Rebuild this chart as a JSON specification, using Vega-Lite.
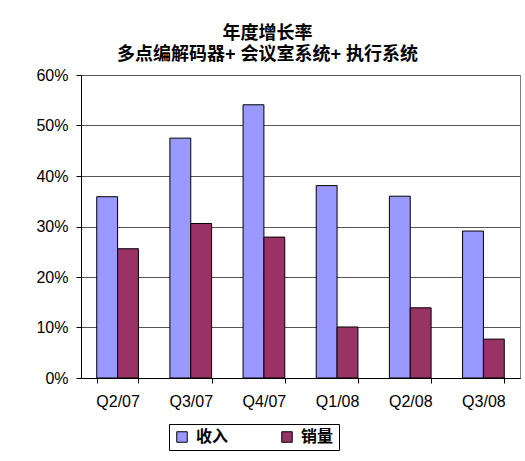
{
  "$schema": "https://vega.github.io/schema/vega-lite/v6.json",
  "width": 439,
  "height": 303,
  "autosize": "none",
  "padding": {"left": 81, "top": 75, "right": 5, "bottom": 83},
  "background": "white",
  "title": {
    "text": ["年度增长率", "多点编解码器+ 会议室系统+ 执行系统"],
    "font": "Liberation Sans, Noto Sans CJK SC",
    "fontSize": 18,
    "fontWeight": "bold",
    "color": "black",
    "anchor": "middle",
    "dx": -33,
    "offset": 3,
    "lineHeight": 21
  },
  "data": {
    "values": [
      {"quarter": "Q2/07", "series": "收入", "value": 0.359},
      {"quarter": "Q2/07", "series": "销量", "value": 0.256},
      {"quarter": "Q3/07", "series": "收入", "value": 0.475},
      {"quarter": "Q3/07", "series": "销量", "value": 0.306},
      {"quarter": "Q4/07", "series": "收入", "value": 0.541},
      {"quarter": "Q4/07", "series": "销量", "value": 0.279},
      {"quarter": "Q1/08", "series": "收入", "value": 0.381},
      {"quarter": "Q1/08", "series": "销量", "value": 0.101},
      {"quarter": "Q2/08", "series": "收入", "value": 0.360},
      {"quarter": "Q2/08", "series": "销量", "value": 0.139},
      {"quarter": "Q3/08", "series": "收入", "value": 0.291},
      {"quarter": "Q3/08", "series": "销量", "value": 0.077}
    ]
  },
  "mark": {"type": "bar", "stroke": "black", "strokeWidth": 1},
  "encoding": {
    "x": {
      "field": "quarter",
      "type": "nominal",
      "sort": ["Q2/07", "Q3/07", "Q4/07", "Q1/08", "Q2/08", "Q3/08"],
      "scale": {"paddingInner": 0.43, "paddingOuter": 0.215},
      "axis": {
        "title": null,
        "labelAngle": 0,
        "labelFont": "Liberation Sans",
        "labelFontSize": 16,
        "labelColor": "black",
        "labelPadding": 10,
        "tickBand": "extent",
        "tickSize": 5,
        "tickColor": "black",
        "domainColor": "black",
        "grid": false
      }
    },
    "xOffset": {"field": "series", "type": "nominal", "sort": ["收入", "销量"]},
    "y": {
      "field": "value",
      "type": "quantitative",
      "scale": {"domain": [0, 0.6], "nice": false},
      "axis": {
        "title": null,
        "format": ".0%",
        "values": [0, 0.1, 0.2, 0.3, 0.4, 0.5, 0.6],
        "labelFont": "Liberation Sans",
        "labelFontSize": 16,
        "labelColor": "black",
        "labelPadding": 8,
        "tickSize": 5,
        "tickColor": "black",
        "domainColor": "black",
        "gridColor": "#555555",
        "gridOpacity": 1
      }
    },
    "color": {
      "field": "series",
      "type": "nominal",
      "sort": ["收入", "销量"],
      "scale": {"domain": ["收入", "销量"], "range": ["#9999FF", "#993366"]},
      "legend": {
        "title": null,
        "orient": "none",
        "legendX": 88,
        "legendY": 349,
        "direction": "horizontal",
        "columns": 2,
        "columnPadding": 50,
        "symbolType": "square",
        "symbolSize": 110,
        "symbolStrokeColor": "black",
        "symbolStrokeWidth": 1,
        "symbolOpacity": 1,
        "labelFont": "Noto Sans CJK SC",
        "labelFontSize": 16,
        "labelFontWeight": "bold",
        "labelColor": "black",
        "labelOffset": 6,
        "padding": 5,
        "strokeColor": "black",
        "fillColor": "white"
      }
    }
  },
  "config": {
    "view": {"stroke": "#808080", "strokeWidth": 1}
  }
}
